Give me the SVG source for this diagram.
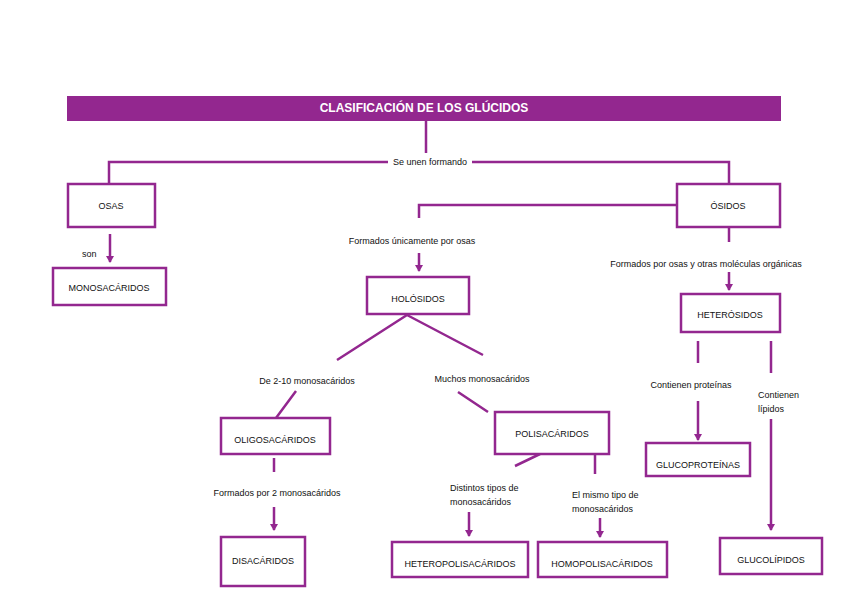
<svg xmlns="http://www.w3.org/2000/svg" width="848" height="599" viewBox="0 0 848 599">
<style>
.b{fill:#fff;stroke:#93278f;stroke-width:2.5}
.l{fill:none;stroke:#93278f;stroke-width:2.5}
text{font-family:"Liberation Sans",Arial,sans-serif;font-size:9px;fill:#111}
.c{text-anchor:middle}
</style>
<defs><marker id="a" markerWidth="8" markerHeight="8" refX="6" refY="4" orient="auto" markerUnits="userSpaceOnUse"><path d="M0,0L7,4L0,8z" fill="#93278f"/></marker></defs>
<rect width="848" height="599" fill="#fff"/>
<g id="title"><rect x="67" y="96" width="714" height="25" fill="#93278f"/><text x="424" y="112" class="c" style="fill:#fff;font-weight:bold;font-size:12px">CLASIFICACIÓN DE LOS GLÚCIDOS</text></g>
<g id="connectors">
<path class="l" d="M426,121V153M388,162H109V184M472,162H729V184"/>
<text x="430" y="165" class="c">Se unen formando</text>
<path class="l" d="M110,234V262" marker-end="url(#a)"/><text x="82" y="257">son</text>
<path class="l" d="M677,205H419V218"/><text x="412" y="244" class="c">Formados únicamente por osas</text>
<path class="l" d="M419,253V271" marker-end="url(#a)"/>
<path class="l" d="M729,227V242"/><text x="706" y="267" class="c">Formados por osas y otras moléculas orgánicas</text>
<path class="l" d="M729,272V290" marker-end="url(#a)"/>
<path class="l" d="M407,315L337,360M407,315L483,355"/>
<text x="307" y="384" class="c">De 2-10 monosacáridos</text><text x="482" y="382" class="c">Muchos monosacáridos</text>
<path class="l" d="M296,391L276,418M458,392L488,412"/>
<path class="l" d="M274,458V472"/><text x="277" y="496" class="c">Formados por 2 monosacáridos</text>
<path class="l" d="M274,507V530" marker-end="url(#a)"/>
<path class="l" d="M540,454L515,466M595,454V474"/>
<text x="450" y="491">Distintos tipos de</text><text x="450" y="505">monosacáridos</text>
<path class="l" d="M469,512V536" marker-end="url(#a)"/>
<text x="572" y="498">El mismo tipo de</text><text x="572" y="512">monosacáridos</text>
<path class="l" d="M600,518V537" marker-end="url(#a)"/>
<path class="l" d="M698,341V363M771,341V373"/>
<text x="691" y="388" class="c">Contienen proteínas</text>
<path class="l" d="M698,401V440" marker-end="url(#a)"/>
<text x="758" y="398">Contienen</text><text x="758" y="412">lípidos</text>
<path class="l" d="M771,419V530" marker-end="url(#a)"/>
</g>
<g id="osas"><rect class="b" x="68" y="184" width="87" height="43"/><text x="111" y="209" class="c">OSAS</text></g>
<g id="osidos"><rect class="b" x="677" y="184" width="103" height="43"/><text x="728" y="209" class="c">ÓSIDOS</text></g>
<g id="mono"><rect class="b" x="53" y="268" width="113" height="37"/><text x="109" y="291" class="c">MONOSACÁRIDOS</text></g>
<g id="holo"><rect class="b" x="367" y="277" width="102" height="37"/><text x="418" y="302" class="c">HOLÓSIDOS</text></g>
<g id="hetero"><rect class="b" x="681" y="294" width="99" height="38"/><text x="730" y="318" class="c">HETERÓSIDOS</text></g>
<g id="oligo"><rect class="b" x="221" y="418" width="109" height="36"/><text x="275" y="443" class="c">OLIGOSACÁRIDOS</text></g>
<g id="poli"><rect class="b" x="495" y="412" width="114" height="42"/><text x="552" y="437" class="c">POLISACÁRIDOS</text></g>
<g id="glucoprot"><rect class="b" x="646" y="443" width="104" height="33"/><text x="698" y="468" class="c">GLUCOPROTEÍNAS</text></g>
<g id="disac"><rect class="b" x="221" y="537" width="84" height="49"/><text x="263" y="564" class="c">DISACÁRIDOS</text></g>
<g id="heteropoli"><rect class="b" x="392" y="542" width="136" height="35"/><text x="460" y="567" class="c">HETEROPOLISACÁRIDOS</text></g>
<g id="homopoli"><rect class="b" x="538" y="542" width="129" height="35"/><text x="602" y="567" class="c">HOMOPOLISACÁRIDOS</text></g>
<g id="glucolip"><rect class="b" x="720" y="538" width="102" height="36"/><text x="771" y="563" class="c">GLUCOLÍPIDOS</text></g>
</svg>
